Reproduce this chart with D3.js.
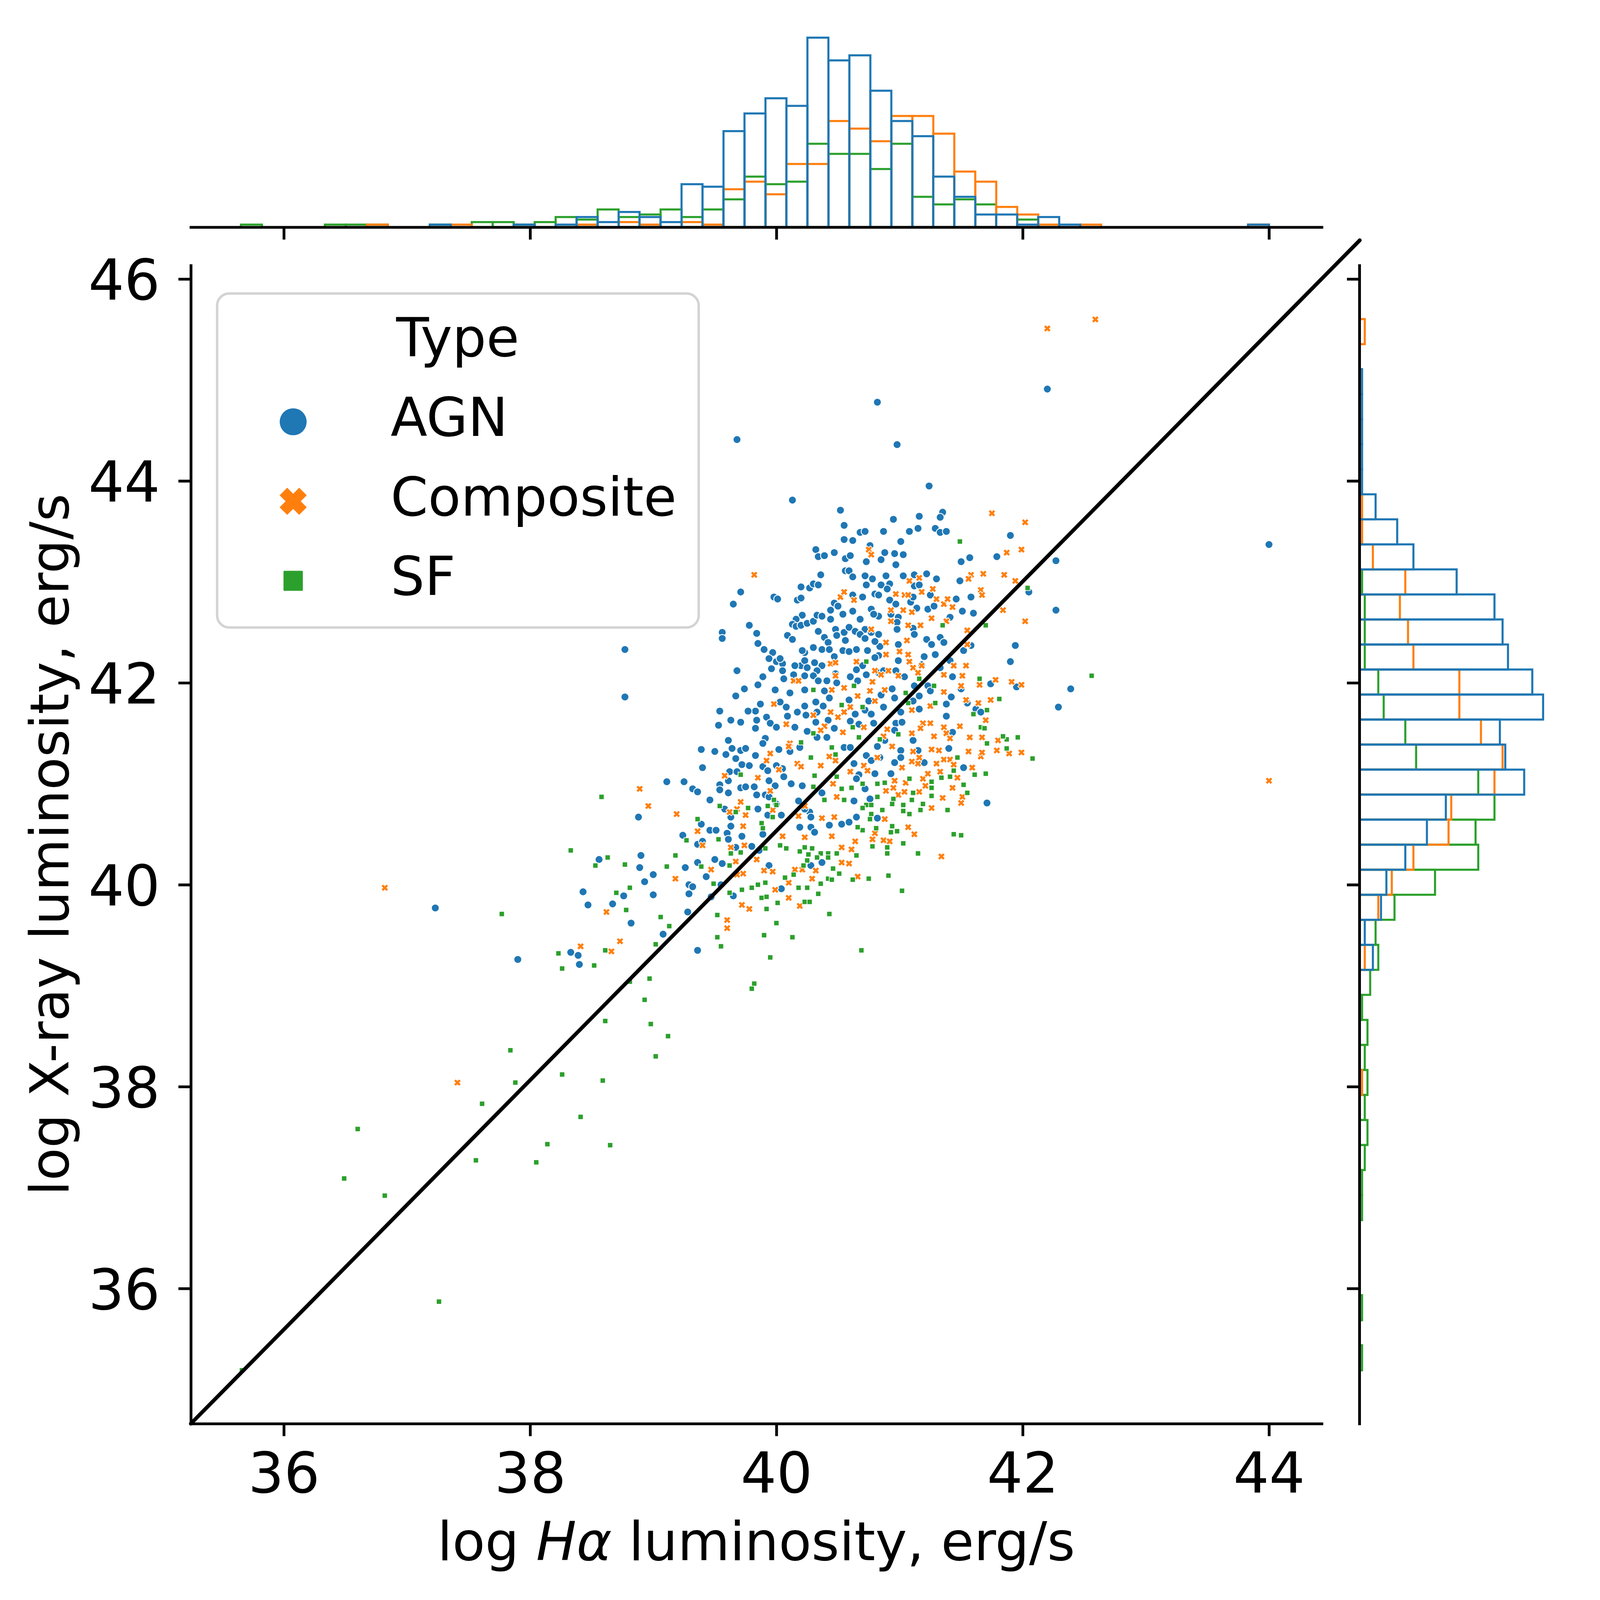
<!DOCTYPE html>
<html>
<head>
<meta charset="utf-8">
<script src="https://cdn.jsdelivr.net/npm/d3@7"></script>
<style>
html, body { margin: 0; padding: 0; overflow: hidden; background: #ffffff; }
svg { display: block; width: 100vw; height: 100vh; }
</style>
</head>
<body>
<script>
var width = 4574, height = 4628;

var types = ["AGN", "Composite", "SF"];
var colors = ["#1f77b4", "#ff7f0e", "#2ca02c"];
var xTicks = [36, 38, 40, 42, 44];
var yTicks = [36, 38, 40, 42, 44, 46];
var xDomain = [35.245, 44.428];
var yDomain = [34.661, 46.134];

// reference line
var lineX = [35.245, 44.737];
var lineY = [34.661, 46.384];

// marginal histograms: shared bins, counts
var xBinRange = [35.652, 44.0];
var yBinRange = [35.19, 45.603];
var topAGN = [0,0,0,0,0,0,0,0,0,1, 0,0,0,1,0,1,4,2,6,4, 2,17,16,38,45,51,48,75,66,68, 54,42,36,20,12,5,5,1,4,1, 0,0,0,0,0,0,0,0,1];
var topComposite = [0,0,0,0,0,0,1,0,0,0, 1,0,0,0,0,0,1,0,2,1, 0,2,1,15,18,13,25,25,42,39, 34,44,44,37,22,18,8,5,1,0, 1,0,0,0,0,0,0,0,1];
var topSF = [1,0,0,0,1,1,1,0,0,1, 0,2,2,1,2,4,3,7,4,5, 7,4,7,11,20,17,18,33,29,29, 23,33,12,9,11,9,0,3,0,0, 0,0,0,0,0,0,0,0,0];
// right histogram rows, from the top bin downwards
var rightAGN = [0,0,1,1,1,1,1,6,14,20, 36,50,53,55,64,68,52,54,61,32, 25,17,10,8,2,5,0,0,0,0, 0,0,0,0,0,0,0,0,0,0, 0,0];
var rightComposite = [2,0,0,0,0,0,0,1,1,5, 17,15,18,20,37,37,45,53,50,34, 33,20,12,7,0,2,0,0,0,0, 1,0,0,0,0,0,0,0,0,0, 0,0];
var rightSF = [0,0,0,0,0,0,0,0,0,0, 1,2,2,2,7,9,17,21,44,50, 43,44,28,13,6,7,4,1,3,2, 3,2,3,2,1,1,0,0,0,1, 0,1];

// scatter points [log Ha, log X]
var agnPoints = [
[40.13,43.81],[40.52,43.71],[40.55,43.56],[40.55,43.42],[40.32,43.32],[40.34,43.25],[40.39,43.26],[40.47,43.29],[40.56,43.23],[40.56,43.11],
[40.36,43.07],[40.20,42.95],[40.27,42.94],[40.30,42.98],[40.34,42.97],[39.71,42.90],[39.65,42.78],[39.98,42.85],[40.01,42.83],[40.17,42.82],
[40.20,42.84],[40.47,42.79],[40.50,42.76],[40.44,42.72],[40.54,42.68],[40.21,42.67],[40.16,42.63],[40.13,42.58],[40.16,42.56],[40.20,42.57],
[40.25,42.59],[40.30,42.61],[40.33,42.67],[40.37,42.66],[40.44,42.63],[39.78,42.57],[40.34,42.51],[40.39,42.45],[40.42,42.40],[40.48,42.53],
[40.49,42.47],[40.55,42.50],[39.84,42.49],[39.56,42.50],[39.56,42.44],[40.09,42.47],[40.13,42.43],[39.85,42.39],[39.90,42.33],[39.97,42.30],
[39.94,42.24],[40.00,42.21],[40.05,42.19],[40.03,42.24],[39.96,42.14],[40.05,42.12],[38.77,42.33],[38.77,41.86],[39.68,42.12],[39.89,42.06],
[39.85,41.98],[39.74,41.94],[39.67,41.87],[39.99,41.93],[40.06,42.04],[40.11,41.90],[40.03,41.81],[40.08,41.76],[39.87,41.79],[39.83,41.72],
[39.77,41.72],[39.54,41.72],[39.53,41.58],[39.63,41.63],[39.71,41.61],[39.84,41.63],[39.92,41.66],[39.95,41.60],[39.83,41.55],[40.00,41.56],
[39.91,41.45],[40.09,41.67],[40.15,41.56],[40.17,41.71],[40.20,42.17],[40.23,42.30],[40.21,42.32],[40.30,42.35],[40.37,42.33],[40.43,42.33],
[40.23,42.22],[40.31,42.20],[40.37,42.17],[40.25,42.15],[40.33,42.12],[40.23,42.07],[40.30,42.07],[40.34,42.02],[40.41,42.02],[40.48,42.09],
[40.49,42.00],[40.54,42.32],[40.56,42.42],[40.47,42.26],[40.23,41.93],[40.39,41.92],[40.43,41.85],[40.32,41.81],[40.38,41.77],[40.24,41.68],
[40.23,41.77],[40.33,41.71],[40.42,41.63],[40.47,41.55],[40.32,41.61],[40.25,41.52],[40.33,41.46],[40.41,41.46],[40.15,42.17],[40.14,42.08],
[39.89,41.40],[39.61,41.43],
[41.24,43.95],[40.95,43.62],[41.16,43.65],[41.35,43.69],[41.33,43.64],[40.68,43.49],[40.72,43.50],[40.87,43.50],[41.08,43.50],[41.15,43.53],
[41.29,43.53],[41.33,43.49],[41.38,43.50],[40.62,43.41],[41.01,43.40],[41.90,43.46],[40.76,43.36],[40.60,43.26],[40.88,43.29],[40.96,43.28],
[41.03,43.27],[40.85,43.22],[40.73,43.20],[40.97,43.17],[41.50,43.20],[41.57,43.24],[41.79,43.25],[42.27,43.21],[40.59,43.11],[40.62,43.05],
[40.72,43.06],[40.78,43.03],[40.89,43.06],[41.03,43.06],[41.12,43.07],[41.22,43.08],[41.30,43.03],[40.73,42.97],[40.85,42.97],[40.92,42.98],
[40.90,42.93],[41.12,42.96],[41.16,42.97],[41.49,43.01],[40.62,42.87],[40.70,42.85],[40.80,42.88],[40.83,42.87],[40.92,42.82],[40.97,42.78],
[41.09,42.80],[41.11,42.85],[41.25,42.87],[41.46,42.83],[41.58,42.85],[40.77,42.73],[40.62,42.71],[40.83,42.66],[40.79,42.68],[40.93,42.68],
[40.99,42.65],[40.98,42.60],[41.14,42.74],[41.23,42.73],[41.28,42.76],[41.41,42.65],[41.51,42.71],[41.60,42.69],[42.05,42.90],[40.68,42.63],
[40.59,42.55],[40.64,42.51],[40.72,42.53],[40.68,42.48],[40.72,42.44],[40.77,42.50],[40.83,42.48],[40.98,42.53],[41.11,42.54],[41.12,42.48],
[41.33,42.45],[41.36,42.40],[41.22,42.43],[41.26,42.38],[40.99,42.38],[40.84,42.36],[40.80,42.41],[40.65,42.33],[40.74,42.32],[40.59,42.31],
[40.83,42.27],[40.80,42.25],[40.99,42.22],[41.20,42.26],[41.29,42.28],[41.41,42.22],[41.52,42.32],[41.58,42.37],[41.94,42.37],[41.90,42.21],
[41.18,42.18],[41.33,42.15],[40.70,42.17],[40.65,42.13],[40.73,42.08],[40.60,42.06],[40.66,42.02],[40.83,42.10],[40.87,42.12],[40.97,42.12],
[41.04,42.06],[41.12,41.97],[41.23,41.97],[41.25,41.92],[41.16,41.87],[41.11,41.82],[41.43,42.06],[41.50,41.94],[41.42,41.86],[41.38,41.79],
[41.16,41.74],[40.75,41.82],[40.72,41.73],[40.77,41.69],[40.64,41.69],[40.59,41.83],[40.87,41.76],[40.96,41.85],[40.94,41.94],[40.85,41.88],
[40.60,41.62],[40.67,41.59],[40.79,41.60],[40.97,41.60],[41.01,41.71],[41.02,41.61],[40.96,41.53],[40.88,41.43],[41.11,41.43],[41.38,41.67],
[41.43,41.51],[41.55,41.80],[41.62,41.74],[41.66,41.71],[41.74,41.99],[41.95,41.96],[42.39,41.94],[42.29,41.76],[42.27,42.72],
[39.39,41.34],[39.50,41.32],[39.59,41.29],[39.64,41.35],[39.71,41.33],[39.75,41.35],[39.83,41.28],[40.02,41.34],[40.11,41.32],[40.19,41.36],
[40.55,41.36],[39.40,41.16],[39.67,41.25],[39.72,41.19],[39.78,41.18],[39.89,41.17],[39.93,41.13],[40.00,41.18],[40.05,41.15],[39.62,41.12],
[39.68,41.12],[39.11,41.02],[39.25,41.02],[39.32,40.95],[39.36,40.92],[39.46,40.84],[39.54,40.99],[39.54,40.94],[39.61,40.91],[39.61,41.03],
[39.71,40.96],[39.75,40.97],[39.82,40.97],[39.84,40.89],[39.94,41.03],[39.99,40.98],[40.06,41.07],[40.12,41.00],[40.21,40.98],[39.91,40.89],
[39.94,40.87],[40.00,40.80],[38.88,40.67],[39.58,40.75],[39.63,40.67],[39.85,40.75],[39.93,40.69],[40.04,40.69],[40.27,40.72],[40.28,40.67],
[40.18,40.83],[40.23,40.75],[39.39,40.60],[39.24,40.49],[39.46,40.54],[39.51,40.54],[39.36,40.40],[39.40,40.43],[39.63,40.58],[39.60,40.51],
[39.61,40.45],[39.72,40.48],[39.89,40.50],[40.19,40.57],[40.28,40.57],[40.31,40.52],[40.43,40.59],[40.53,40.60],[40.37,40.91],[38.90,40.29],
[38.89,40.17],[39.00,40.10],[38.93,40.03],[39.36,40.22],[39.26,40.17],[39.50,40.25],[39.56,40.21],[39.43,40.08],[39.29,40.00],[39.32,39.98],
[39.29,39.91],[39.80,40.38],[39.86,40.34],[39.94,40.19],[39.67,40.37],[38.76,39.89],[38.67,39.81],[39.00,39.90],[39.65,39.89],[39.55,40.00],
[39.47,39.88],[40.04,39.96],[40.28,40.19],[40.37,40.22],[38.82,39.62],[39.08,39.51],[39.28,39.73],[39.36,39.35],
[40.60,41.36],[40.82,41.37],[40.73,41.28],[40.77,41.23],[40.63,41.20],[40.67,41.09],[40.65,41.05],[40.80,41.10],[40.93,41.10],[40.96,41.21],
[41.01,41.33],[41.01,41.26],[41.15,41.33],[41.20,41.21],[41.40,41.35],[41.52,41.16],[40.84,41.26],[40.72,40.95],[40.63,40.83],[40.76,40.85],
[40.65,40.67],[40.59,40.62],[40.82,40.66],[41.71,40.81],
[37.23,39.77],[37.90,39.26],[38.43,39.93],[38.47,39.80],[38.56,40.25],[38.33,39.33],[38.39,39.30],[38.40,39.21],
[39.68,44.41],[40.82,44.78],[40.98,44.36],[42.20,44.91],[44.00,43.37]
];

var compositePoints = [
[39.82,43.07],[40.52,42.85],[40.55,42.90],[40.44,42.19],[40.48,42.20],[40.48,42.07],[40.14,42.02],[40.18,42.02],[40.45,41.93],[40.55,41.95],
[39.98,41.79],[40.30,41.68],[40.44,41.71],[40.50,41.66],[40.55,41.71],[40.08,41.59],[40.39,41.57],[40.36,41.53],[40.54,41.51],[40.11,41.40],
[41.75,43.68],[42.02,43.59],[41.87,43.29],[41.99,43.32],[40.75,43.32],[40.77,43.27],[41.08,43.01],[41.16,43.04],[41.58,43.07],[41.56,43.03],
[41.68,43.08],[41.85,43.07],[41.94,43.01],[41.66,42.92],[41.67,42.87],[40.63,42.82],[40.97,42.88],[41.04,42.87],[41.07,42.87],[41.18,42.90],
[41.27,42.93],[41.30,42.83],[41.36,42.78],[41.39,42.83],[41.43,42.75],[40.93,42.72],[41.03,42.72],[41.10,42.70],[40.93,42.61],[41.26,42.64],
[41.07,42.57],[41.17,42.57],[41.38,42.61],[40.77,42.53],[41.84,42.72],[42.02,42.61],[40.89,42.40],[41.06,42.42],[41.00,42.31],[41.07,42.28],
[41.55,42.38],[41.55,42.52],[40.89,42.28],[40.65,42.21],[41.08,42.21],[41.18,42.17],[41.11,42.15],[41.15,42.10],[40.80,42.12],[40.85,42.08],
[40.91,42.12],[40.99,42.07],[40.78,42.01],[40.76,41.92],[40.88,41.93],[40.66,41.87],[40.80,41.82],[41.44,42.17],[41.54,42.17],[41.36,42.08],
[41.51,42.07],[41.50,41.97],[41.65,41.98],[41.78,42.03],[41.91,42.01],[41.99,41.98],[41.36,41.91],[41.54,41.83],[41.64,41.80],[41.74,41.83],
[41.25,41.77],[41.10,41.73],[41.70,41.63],[41.49,41.57],[41.36,41.56],[41.38,41.50],[41.25,41.60],[41.19,41.60],[41.17,41.55],[41.10,41.50],
[40.90,41.54],[40.71,41.56],[40.60,41.76],[41.28,41.47],[41.41,41.45],[41.57,41.46],[41.80,41.43],[41.67,41.46],[40.87,41.47],
[38.89,40.95],[38.96,40.78],[39.19,40.70],[39.36,40.53],[39.40,40.39],[39.62,40.72],[39.68,40.75],[39.71,40.82],[39.75,40.69],[39.73,40.58],
[39.58,41.08],[39.85,41.06],[39.92,41.23],[39.95,41.30],[40.02,41.14],[39.95,40.93],[39.97,40.74],[40.10,41.37],[40.17,41.20],[40.20,41.17],
[40.36,41.18],[40.43,41.27],[40.48,41.23],[40.46,41.00],[40.49,40.87],[40.37,40.66],[40.47,40.67],[40.23,40.47],[40.05,40.48],[40.18,40.68],
[40.23,40.78],[40.45,40.48],[40.53,40.37],[40.53,40.22],[39.63,40.37],[39.74,40.39],[39.67,40.23],[39.84,40.25],[39.47,40.15],[39.18,40.06],
[39.73,40.11],[39.68,40.10],[39.90,40.14],[39.97,40.13],[40.15,40.15],[40.21,40.15],[40.32,40.14],[40.10,40.02],[40.29,40.06],[39.99,39.95],
[40.10,39.87],[40.19,39.79],[39.72,39.80],[39.78,39.76],[39.60,39.65],[39.60,39.57],[38.73,39.44],
[40.60,41.12],[40.71,41.18],[40.74,41.13],[40.82,41.26],[40.94,41.37],[40.96,41.03],[40.89,40.93],[40.95,40.96],[40.99,40.89],[41.04,40.92],
[41.02,41.16],[41.05,41.01],[41.10,41.22],[41.11,41.32],[41.15,41.20],[41.16,41.26],[41.19,41.05],[41.21,40.98],[41.23,41.10],[41.16,40.92],
[41.26,41.34],[41.32,41.33],[41.30,41.20],[41.33,41.12],[41.36,41.24],[41.41,41.24],[41.44,41.19],[41.47,41.06],[41.43,40.96],[41.51,40.87],
[41.50,40.81],[41.35,40.86],[41.26,40.76],[41.59,41.16],[41.56,41.32],[41.66,41.27],[41.67,41.31],[41.79,41.33],[41.89,41.30],[41.99,41.31],
[40.88,40.65],[41.07,40.57],[41.12,40.50],[40.80,40.51],[40.78,40.45],[40.87,40.44],[40.92,40.43],[40.64,40.43],[40.61,40.35],[40.59,40.21],
[40.66,40.08],[41.34,40.28],
[36.82,39.97],[37.41,38.04],[38.41,39.39],[38.62,39.73],[38.66,39.34],[42.20,45.51],[42.59,45.60],[44.00,41.03]
];

var sfPoints = [
[40.30,41.93],[40.53,41.78],[40.30,41.50],[40.20,41.41],
[41.49,43.40],[42.04,42.94],[41.35,42.57],[41.70,42.57],[40.73,42.21],[40.63,41.97],[41.16,42.04],[41.05,41.90],[41.28,41.97],[41.29,41.80],
[41.07,41.80],[40.70,41.76],[41.65,42.04],[41.81,41.84],[41.71,41.73],[41.60,41.69],[41.66,41.56],[41.69,41.55],[40.99,41.49],[40.84,41.44],
[40.67,41.46],[41.96,41.46],[41.87,41.44],[41.84,41.47],[41.71,41.40],[40.62,41.56],
[40.45,41.36],[40.28,41.26],[40.48,41.29],[40.31,41.08],[40.49,41.07],[40.53,40.95],[40.39,40.84],[40.55,40.84],[40.30,40.97],[39.98,40.84],
[40.00,40.79],[39.71,41.09],[39.77,40.76],[39.54,40.78],[39.67,40.72],[39.93,40.78],[39.97,40.67],[39.36,40.65],[39.27,40.44],[39.53,40.45],
[39.88,40.61],[39.89,40.56],[40.03,40.39],[40.08,40.36],[40.19,40.33],[40.23,40.37],[40.29,40.36],[40.36,40.31],[40.42,40.31],[40.49,40.31],
[39.71,40.32],[39.63,40.31],[39.91,40.36],[40.26,40.30],[40.25,40.24],[40.33,40.27],[40.42,40.27],[40.22,40.19],[40.46,40.16],[40.51,40.11],
[40.42,40.06],[40.45,40.05],[40.36,40.01],[40.25,39.97],[40.18,39.97],[40.14,40.10],[40.07,40.07],[39.91,40.02],[39.85,40.00],[39.80,39.97],
[39.72,39.95],[39.62,39.92],[39.88,39.87],[39.92,39.88],[40.01,39.82],[40.23,39.83],[40.27,39.83],[40.34,39.91],[39.92,39.76],[40.43,39.71],
[39.18,40.29],[39.11,40.18],[39.39,40.18],[39.62,40.19],[39.49,40.01],[38.81,39.97],[38.70,39.92],[38.77,40.20],[38.78,39.75],[39.06,39.68],
[39.13,39.59],[39.02,39.41],[39.52,39.70],[40.00,39.62],[39.90,39.50],[40.13,39.48],[39.52,39.48],[39.55,39.39],[39.95,39.28],[38.97,39.07],
[38.81,39.04],[39.82,39.02],[39.80,38.97],[38.93,38.86],
[41.87,41.35],[42.08,41.25],[41.47,41.26],[41.61,41.09],[41.70,41.10],[41.41,41.07],[41.34,41.06],[41.44,41.13],[41.26,41.02],[41.26,40.96],
[41.26,40.88],[41.08,41.05],[41.11,40.91],[41.10,40.84],[41.19,40.80],[41.17,40.74],[41.03,40.79],[41.03,40.73],[41.08,40.70],[40.95,40.85],
[40.94,40.80],[40.86,40.74],[40.82,40.87],[40.88,41.01],[40.82,41.00],[40.70,41.00],[40.61,40.96],[40.73,40.79],[40.77,40.79],[40.70,40.76],
[40.77,40.70],[40.76,40.65],[40.94,40.58],[40.93,40.52],[40.98,40.53],[40.81,40.56],[40.70,40.54],[40.66,40.57],[41.03,40.41],[40.90,40.37],
[40.90,40.31],[40.78,40.38],[40.65,40.29],[41.15,40.31],[41.44,40.50],[41.50,40.49],[41.39,40.74],[41.55,40.91],[41.52,40.99],[40.91,40.09],
[40.75,40.06],[40.62,40.05],[41.02,39.94],[40.69,39.35],
[38.58,40.87],[38.33,40.34],[38.63,40.27],[38.53,40.19],[37.77,39.71],[38.23,39.32],[38.26,39.17],[38.61,39.35],[38.52,39.20],[38.61,38.65],
[37.84,38.36],[38.26,38.12],[38.59,38.06],[37.88,38.04],[37.61,37.83],[38.41,37.70],[36.60,37.58],[38.14,37.43],[38.65,37.42],[37.56,37.27],
[38.05,37.25],[36.49,37.09],[36.82,36.92],[37.26,35.87],[35.66,35.19],[38.98,38.62],[39.12,38.50],[39.02,38.30],[42.56,42.07]
];

var svg = d3.select("body")
            .append("svg")
            .attr("viewBox", "0 0 " + width + " " + height)
            .attr("preserveAspectRatio", "xMinYMin meet")
            .style("background", "#ffffff");

var x = d3.scaleLinear().domain(xDomain).range([552, 3823]);
var y = d3.scaleLinear().domain(yDomain).range([4118, 768]);

var topMax = d3.max(topAGN.concat(topComposite, topSF));
var rightMax = d3.max(rightAGN.concat(rightComposite, rightSF));
var topY = d3.scaleLinear().domain([0, topMax * 1.05]).range([657, 81.5]);
var rightX = d3.scaleLinear().domain([0, rightMax * 1.05]).range([3932, 4490]);

var nx = topAGN.length, ny = rightAGN.length;
var xStep = (xBinRange[1] - xBinRange[0]) / nx;
var yStep = (yBinRange[1] - yBinRange[0]) / ny;

// histograms, last hue drawn first so AGN sits on top
var topSets = [topAGN, topComposite, topSF];
var rightSets = [rightAGN, rightComposite, rightSF];
var histTop = svg.append("g").attr("class", "hist-top");
var histRight = svg.append("g").attr("class", "hist-right");
[2, 1, 0].forEach(function(k) {
  histTop.append("g")
    .selectAll("rect")
    .data(topSets[k].map(function(c, i) { return {c: c, i: i}; }).filter(function(d) { return d.c > 0; }))
    .enter().append("rect")
    .attr("x", function(d) { return x(xBinRange[0] + d.i * xStep); })
    .attr("width", function(d) { return x(xBinRange[0] + (d.i + 1) * xStep) - x(xBinRange[0] + d.i * xStep); })
    .attr("y", function(d) { return topY(d.c); })
    .attr("height", function(d) { return topY(0) - topY(d.c); })
    .style("fill", "none")
    .style("stroke", colors[k])
    .style("stroke-width", 6);

  histRight.append("g")
    .selectAll("rect")
    .data(rightSets[k].map(function(c, i) { return {c: c, i: i}; }).filter(function(d) { return d.c > 0; }))
    .enter().append("rect")
    .attr("y", function(d) { return y(yBinRange[1] - d.i * yStep); })
    .attr("height", function(d) { return y(yBinRange[1] - (d.i + 1) * yStep) - y(yBinRange[1] - d.i * yStep); })
    .attr("x", rightX(0))
    .attr("width", function(d) { return rightX(d.c) - rightX(0); })
    .style("fill", "none")
    .style("stroke", colors[k])
    .style("stroke-width", 6);
});

// scatter
var plot = svg.append("g").attr("class", "points");

plot.append("g").selectAll("circle")
    .data(agnPoints)
    .enter().append("circle")
    .attr("cx", function(d) { return x(d[0]); })
    .attr("cy", function(d) { return y(d[1]); })
    .attr("r", 11.3)
    .style("fill", colors[0])
    .style("stroke", "white")
    .style("stroke-width", 2.4);

function xMarker(L, a) {
  var v = [[a,L],[a,a],[L,a],[L,-a],[a,-a],[a,-L],[-a,-L],[-a,-a],[-L,-a],[-L,a],[-a,a],[-a,L]];
  return "M" + v.map(function(p) { return p[0] + "," + p[1]; }).join("L") + "Z";
}

plot.append("g").selectAll("path")
    .data(compositePoints)
    .enter().append("path")
    .attr("d", xMarker(11, 4.2))
    .attr("transform", function(d) { return "translate(" + x(d[0]) + "," + y(d[1]) + ") rotate(45)"; })
    .style("fill", colors[1])
    .style("stroke", "white")
    .style("stroke-width", 2);

plot.append("g").selectAll("rect")
    .data(sfPoints)
    .enter().append("rect")
    .attr("x", function(d) { return x(d[0]) - 7.5; })
    .attr("y", function(d) { return y(d[1]) - 7.5; })
    .attr("width", 15)
    .attr("height", 15)
    .style("fill", colors[2])
    .style("stroke", "white")
    .style("stroke-width", 2);

// reference line, not clipped
svg.append("line")
    .attr("x1", x(lineX[0])).attr("y1", y(lineY[0]))
    .attr("x2", x(lineX[1])).attr("y2", y(lineY[1]))
    .style("stroke", "black")
    .style("stroke-width", 11)
    .style("stroke-linecap", "round");

// axes
function styleAxis(g, fontSize) {
  g.attr("font-family", "DejaVu Sans").attr("font-size", fontSize);
  g.select(".domain").style("stroke-width", 8).style("stroke-linecap", "square");
  g.selectAll(".tick line").style("stroke-width", 8);
  g.selectAll(".tick text").attr("fill", "black");
}

var xAxis = svg.append("g")
    .attr("transform", "translate(0,4118)")
    .call(d3.axisBottom(x).tickValues(xTicks).tickSize(36).tickSizeOuter(0).tickPadding(47));
styleAxis(xAxis, 163);

var yAxis = svg.append("g")
    .attr("transform", "translate(552,0)")
    .call(d3.axisLeft(y).tickValues(yTicks).tickSize(36).tickSizeOuter(0).tickPadding(53));
styleAxis(yAxis, 163);
yAxis.selectAll(".tick text").attr("dy", "0.364em");

var topAxis = svg.append("g")
    .attr("transform", "translate(0,657)")
    .call(d3.axisBottom(x).tickValues(xTicks).tickSize(36).tickSizeOuter(0).tickFormat(""));
styleAxis(topAxis, 10);

var rightAxis = svg.append("g")
    .attr("transform", "translate(3932,0)")
    .call(d3.axisLeft(y).tickValues(yTicks).tickSize(36).tickSizeOuter(0).tickFormat(""));
styleAxis(rightAxis, 10);

// axis labels
var xLabel = svg.append("text")
    .attr("x", (552 + 3823) / 2)
    .attr("y", 4513)
    .attr("text-anchor", "middle")
    .attr("font-family", "DejaVu Sans")
    .attr("font-size", 155);
xLabel.append("tspan").text("log ");
xLabel.append("tspan").attr("font-style", "italic").text("Hα");
xLabel.append("tspan").text(" luminosity, erg/s");

svg.append("text")
    .attr("transform", "translate(198," + ((768 + 4118) / 2) + ") rotate(-90)")
    .attr("text-anchor", "middle")
    .attr("font-family", "DejaVu Sans")
    .attr("font-size", 155)
    .text("log X-ray luminosity, erg/s");

// legend
var legend = svg.append("g").attr("class", "legend");
legend.append("rect")
    .attr("x", 628).attr("y", 849)
    .attr("width", 1393).attr("height", 966)
    .attr("rx", 35).attr("ry", 35)
    .style("fill", "white")
    .style("fill-opacity", 0.8)
    .style("stroke", "#d3d3d3")
    .style("stroke-width", 7);

legend.append("text")
    .attr("x", 1324).attr("y", 1030)
    .attr("text-anchor", "middle")
    .attr("font-family", "DejaVu Sans")
    .attr("font-size", 155)
    .text("Type");

var rowY = [1220, 1450, 1680];
types.forEach(function(t, i) {
  if (i === 0) {
    legend.append("circle").attr("cx", 848).attr("cy", rowY[i]).attr("r", 39).style("fill", colors[0]);
  } else if (i === 1) {
    legend.append("path").attr("d", xMarker(40, 15.5))
      .attr("transform", "translate(848," + rowY[i] + ") rotate(45)")
      .style("fill", colors[1]);
  } else {
    legend.append("rect").attr("x", 820).attr("y", rowY[i] - 29).attr("width", 56).attr("height", 58)
      .attr("rx", 3).style("fill", colors[2]);
  }
  legend.append("text")
    .attr("x", 1130).attr("y", rowY[i] + 41)
    .attr("font-family", "DejaVu Sans")
    .attr("font-size", 155)
    .text(t);
});
</script>
</body>
</html>
